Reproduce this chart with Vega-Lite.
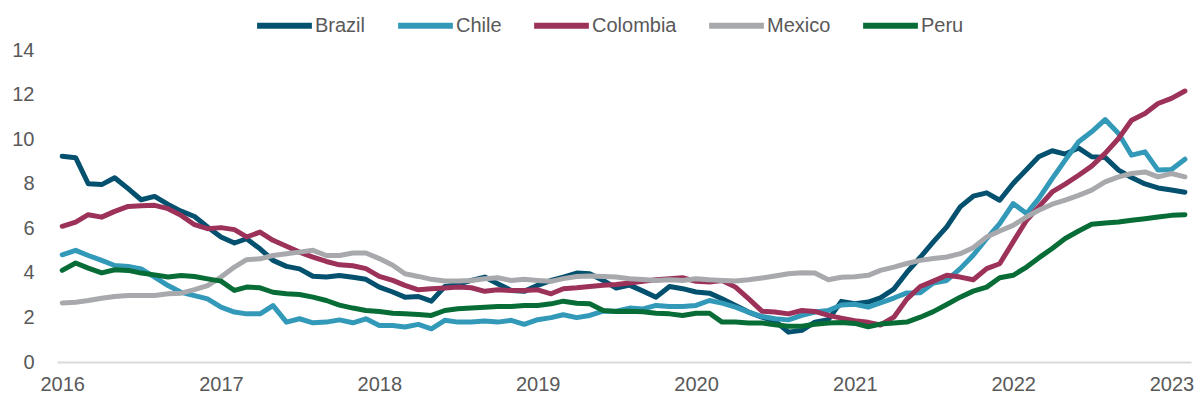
{
  "$schema": "https://vega.github.io/schema/vega-lite/v6.json",
  "width": 1134,
  "height": 312,
  "autosize": "none",
  "padding": {"left": 57, "top": 50, "right": 4, "bottom": 38},
  "background": "white",
  "config": {"font": "Liberation Sans", "view": {"stroke": null}},
  "data": {"values": [
{"date":"2016-01-01","country":"Brazil","value":9.23},{"date":"2016-02-01","country":"Brazil","value":9.17},{"date":"2016-03-01","country":"Brazil","value":8.00},{"date":"2016-04-01","country":"Brazil","value":7.96},{"date":"2016-05-01","country":"Brazil","value":8.27},{"date":"2016-06-01","country":"Brazil","value":7.78},{"date":"2016-07-01","country":"Brazil","value":7.28},{"date":"2016-08-01","country":"Brazil","value":7.43},{"date":"2016-09-01","country":"Brazil","value":7.07},{"date":"2016-10-01","country":"Brazil","value":6.77},{"date":"2016-11-01","country":"Brazil","value":6.53},{"date":"2016-12-01","country":"Brazil","value":6.06},
{"date":"2017-01-01","country":"Brazil","value":5.61},{"date":"2017-02-01","country":"Brazil","value":5.34},{"date":"2017-03-01","country":"Brazil","value":5.53},{"date":"2017-04-01","country":"Brazil","value":5.08},{"date":"2017-05-01","country":"Brazil","value":4.56},{"date":"2017-06-01","country":"Brazil","value":4.29},{"date":"2017-07-01","country":"Brazil","value":4.18},{"date":"2017-08-01","country":"Brazil","value":3.85},{"date":"2017-09-01","country":"Brazil","value":3.81},{"date":"2017-10-01","country":"Brazil","value":3.88},{"date":"2017-11-01","country":"Brazil","value":3.80},{"date":"2017-12-01","country":"Brazil","value":3.71},
{"date":"2018-01-01","country":"Brazil","value":3.36},{"date":"2018-02-01","country":"Brazil","value":3.14},{"date":"2018-03-01","country":"Brazil","value":2.91},{"date":"2018-04-01","country":"Brazil","value":2.94},{"date":"2018-05-01","country":"Brazil","value":2.73},{"date":"2018-06-01","country":"Brazil","value":3.39},{"date":"2018-07-01","country":"Brazil","value":3.48},{"date":"2018-08-01","country":"Brazil","value":3.66},{"date":"2018-09-01","country":"Brazil","value":3.81},{"date":"2018-10-01","country":"Brazil","value":3.51},{"date":"2018-11-01","country":"Brazil","value":3.21},{"date":"2018-12-01","country":"Brazil","value":3.17},
{"date":"2019-01-01","country":"Brazil","value":3.44},{"date":"2019-02-01","country":"Brazil","value":3.66},{"date":"2019-03-01","country":"Brazil","value":3.81},{"date":"2019-04-01","country":"Brazil","value":3.99},{"date":"2019-05-01","country":"Brazil","value":3.96},{"date":"2019-06-01","country":"Brazil","value":3.66},{"date":"2019-07-01","country":"Brazil","value":3.32},{"date":"2019-08-01","country":"Brazil","value":3.45},{"date":"2019-09-01","country":"Brazil","value":3.18},{"date":"2019-10-01","country":"Brazil","value":2.91},{"date":"2019-11-01","country":"Brazil","value":3.39},{"date":"2019-12-01","country":"Brazil","value":3.29},
{"date":"2020-01-01","country":"Brazil","value":3.14},{"date":"2020-02-01","country":"Brazil","value":3.09},{"date":"2020-03-01","country":"Brazil","value":2.84},{"date":"2020-04-01","country":"Brazil","value":2.54},{"date":"2020-05-01","country":"Brazil","value":2.24},{"date":"2020-06-01","country":"Brazil","value":2.01},{"date":"2020-07-01","country":"Brazil","value":1.84},{"date":"2020-08-01","country":"Brazil","value":1.34},{"date":"2020-09-01","country":"Brazil","value":1.42},{"date":"2020-10-01","country":"Brazil","value":1.79},{"date":"2020-11-01","country":"Brazil","value":1.90},{"date":"2020-12-01","country":"Brazil","value":2.72},
{"date":"2021-01-01","country":"Brazil","value":2.61},{"date":"2021-02-01","country":"Brazil","value":2.69},{"date":"2021-03-01","country":"Brazil","value":2.88},{"date":"2021-04-01","country":"Brazil","value":3.27},{"date":"2021-05-01","country":"Brazil","value":4.02},{"date":"2021-06-01","country":"Brazil","value":4.70},{"date":"2021-07-01","country":"Brazil","value":5.39},{"date":"2021-08-01","country":"Brazil","value":6.06},{"date":"2021-09-01","country":"Brazil","value":6.96},{"date":"2021-10-01","country":"Brazil","value":7.44},{"date":"2021-11-01","country":"Brazil","value":7.59},{"date":"2021-12-01","country":"Brazil","value":7.26},
{"date":"2022-01-01","country":"Brazil","value":8.01},{"date":"2022-02-01","country":"Brazil","value":8.64},{"date":"2022-03-01","country":"Brazil","value":9.21},{"date":"2022-04-01","country":"Brazil","value":9.48},{"date":"2022-05-01","country":"Brazil","value":9.33},{"date":"2022-06-01","country":"Brazil","value":9.60},{"date":"2022-07-01","country":"Brazil","value":9.21},{"date":"2022-08-01","country":"Brazil","value":9.18},{"date":"2022-09-01","country":"Brazil","value":8.61},{"date":"2022-10-01","country":"Brazil","value":8.28},{"date":"2022-11-01","country":"Brazil","value":7.99},{"date":"2022-12-01","country":"Brazil","value":7.81},
{"date":"2023-01-01","country":"Brazil","value":7.72},{"date":"2023-02-01","country":"Brazil","value":7.62},
{"date":"2016-01-01","country":"Chile","value":4.81},{"date":"2016-02-01","country":"Chile","value":5.01},{"date":"2016-03-01","country":"Chile","value":4.78},{"date":"2016-04-01","country":"Chile","value":4.56},{"date":"2016-05-01","country":"Chile","value":4.33},{"date":"2016-06-01","country":"Chile","value":4.29},{"date":"2016-07-01","country":"Chile","value":4.18},{"date":"2016-08-01","country":"Chile","value":3.81},{"date":"2016-09-01","country":"Chile","value":3.43},{"date":"2016-10-01","country":"Chile","value":3.13},{"date":"2016-11-01","country":"Chile","value":2.98},{"date":"2016-12-01","country":"Chile","value":2.83},
{"date":"2017-01-01","country":"Chile","value":2.46},{"date":"2017-02-01","country":"Chile","value":2.24},{"date":"2017-03-01","country":"Chile","value":2.16},{"date":"2017-04-01","country":"Chile","value":2.16},{"date":"2017-05-01","country":"Chile","value":2.53},{"date":"2017-06-01","country":"Chile","value":1.79},{"date":"2017-07-01","country":"Chile","value":1.94},{"date":"2017-08-01","country":"Chile","value":1.76},{"date":"2017-09-01","country":"Chile","value":1.79},{"date":"2017-10-01","country":"Chile","value":1.89},{"date":"2017-11-01","country":"Chile","value":1.76},{"date":"2017-12-01","country":"Chile","value":1.94},
{"date":"2018-01-01","country":"Chile","value":1.64},{"date":"2018-02-01","country":"Chile","value":1.64},{"date":"2018-03-01","country":"Chile","value":1.57},{"date":"2018-04-01","country":"Chile","value":1.69},{"date":"2018-05-01","country":"Chile","value":1.49},{"date":"2018-06-01","country":"Chile","value":1.87},{"date":"2018-07-01","country":"Chile","value":1.79},{"date":"2018-08-01","country":"Chile","value":1.79},{"date":"2018-09-01","country":"Chile","value":1.84},{"date":"2018-10-01","country":"Chile","value":1.79},{"date":"2018-11-01","country":"Chile","value":1.87},{"date":"2018-12-01","country":"Chile","value":1.69},
{"date":"2019-01-01","country":"Chile","value":1.90},{"date":"2019-02-01","country":"Chile","value":1.99},{"date":"2019-03-01","country":"Chile","value":2.12},{"date":"2019-04-01","country":"Chile","value":1.99},{"date":"2019-05-01","country":"Chile","value":2.09},{"date":"2019-06-01","country":"Chile","value":2.28},{"date":"2019-07-01","country":"Chile","value":2.28},{"date":"2019-08-01","country":"Chile","value":2.42},{"date":"2019-09-01","country":"Chile","value":2.38},{"date":"2019-10-01","country":"Chile","value":2.54},{"date":"2019-11-01","country":"Chile","value":2.49},{"date":"2019-12-01","country":"Chile","value":2.49},
{"date":"2020-01-01","country":"Chile","value":2.54},{"date":"2020-02-01","country":"Chile","value":2.76},{"date":"2020-03-01","country":"Chile","value":2.64},{"date":"2020-04-01","country":"Chile","value":2.46},{"date":"2020-05-01","country":"Chile","value":2.24},{"date":"2020-06-01","country":"Chile","value":2.04},{"date":"2020-07-01","country":"Chile","value":1.94},{"date":"2020-08-01","country":"Chile","value":1.89},{"date":"2020-09-01","country":"Chile","value":2.09},{"date":"2020-10-01","country":"Chile","value":2.24},{"date":"2020-11-01","country":"Chile","value":2.31},{"date":"2020-12-01","country":"Chile","value":2.56},
{"date":"2021-01-01","country":"Chile","value":2.59},{"date":"2021-02-01","country":"Chile","value":2.46},{"date":"2021-03-01","country":"Chile","value":2.65},{"date":"2021-04-01","country":"Chile","value":2.87},{"date":"2021-05-01","country":"Chile","value":3.10},{"date":"2021-06-01","country":"Chile","value":3.11},{"date":"2021-07-01","country":"Chile","value":3.54},{"date":"2021-08-01","country":"Chile","value":3.66},{"date":"2021-09-01","country":"Chile","value":4.19},{"date":"2021-10-01","country":"Chile","value":4.79},{"date":"2021-11-01","country":"Chile","value":5.54},{"date":"2021-12-01","country":"Chile","value":6.21},
{"date":"2022-01-01","country":"Chile","value":7.11},{"date":"2022-02-01","country":"Chile","value":6.66},{"date":"2022-03-01","country":"Chile","value":7.33},{"date":"2022-04-01","country":"Chile","value":8.23},{"date":"2022-05-01","country":"Chile","value":9.06},{"date":"2022-06-01","country":"Chile","value":9.88},{"date":"2022-07-01","country":"Chile","value":10.33},{"date":"2022-08-01","country":"Chile","value":10.88},{"date":"2022-09-01","country":"Chile","value":10.25},{"date":"2022-10-01","country":"Chile","value":9.28},{"date":"2022-11-01","country":"Chile","value":9.43},{"date":"2022-12-01","country":"Chile","value":8.61},
{"date":"2023-01-01","country":"Chile","value":8.64},{"date":"2023-02-01","country":"Chile","value":9.10},
{"date":"2016-01-01","country":"Colombia","value":6.09},{"date":"2016-02-01","country":"Colombia","value":6.28},{"date":"2016-03-01","country":"Colombia","value":6.61},{"date":"2016-04-01","country":"Colombia","value":6.50},{"date":"2016-05-01","country":"Colombia","value":6.76},{"date":"2016-06-01","country":"Colombia","value":6.98},{"date":"2016-07-01","country":"Colombia","value":7.01},{"date":"2016-08-01","country":"Colombia","value":7.03},{"date":"2016-09-01","country":"Colombia","value":6.88},{"date":"2016-10-01","country":"Colombia","value":6.58},{"date":"2016-11-01","country":"Colombia","value":6.16},{"date":"2016-12-01","country":"Colombia","value":5.98},
{"date":"2017-01-01","country":"Colombia","value":6.03},{"date":"2017-02-01","country":"Colombia","value":5.94},{"date":"2017-03-01","country":"Colombia","value":5.61},{"date":"2017-04-01","country":"Colombia","value":5.83},{"date":"2017-05-01","country":"Colombia","value":5.46},{"date":"2017-06-01","country":"Colombia","value":5.19},{"date":"2017-07-01","country":"Colombia","value":4.93},{"date":"2017-08-01","country":"Colombia","value":4.71},{"date":"2017-09-01","country":"Colombia","value":4.51},{"date":"2017-10-01","country":"Colombia","value":4.36},{"date":"2017-11-01","country":"Colombia","value":4.32},{"date":"2017-12-01","country":"Colombia","value":4.19},
{"date":"2018-01-01","country":"Colombia","value":3.84},{"date":"2018-02-01","country":"Colombia","value":3.66},{"date":"2018-03-01","country":"Colombia","value":3.44},{"date":"2018-04-01","country":"Colombia","value":3.24},{"date":"2018-05-01","country":"Colombia","value":3.29},{"date":"2018-06-01","country":"Colombia","value":3.32},{"date":"2018-07-01","country":"Colombia","value":3.36},{"date":"2018-08-01","country":"Colombia","value":3.33},{"date":"2018-09-01","country":"Colombia","value":3.17},{"date":"2018-10-01","country":"Colombia","value":3.24},{"date":"2018-11-01","country":"Colombia","value":3.21},{"date":"2018-12-01","country":"Colombia","value":3.21},
{"date":"2019-01-01","country":"Colombia","value":3.24},{"date":"2019-02-01","country":"Colombia","value":3.06},{"date":"2019-03-01","country":"Colombia","value":3.29},{"date":"2019-04-01","country":"Colombia","value":3.33},{"date":"2019-05-01","country":"Colombia","value":3.39},{"date":"2019-06-01","country":"Colombia","value":3.44},{"date":"2019-07-01","country":"Colombia","value":3.48},{"date":"2019-08-01","country":"Colombia","value":3.54},{"date":"2019-09-01","country":"Colombia","value":3.62},{"date":"2019-10-01","country":"Colombia","value":3.69},{"date":"2019-11-01","country":"Colombia","value":3.74},{"date":"2019-12-01","country":"Colombia","value":3.78},
{"date":"2020-01-01","country":"Colombia","value":3.62},{"date":"2020-02-01","country":"Colombia","value":3.59},{"date":"2020-03-01","country":"Colombia","value":3.66},{"date":"2020-04-01","country":"Colombia","value":3.36},{"date":"2020-05-01","country":"Colombia","value":2.84},{"date":"2020-06-01","country":"Colombia","value":2.28},{"date":"2020-07-01","country":"Colombia","value":2.24},{"date":"2020-08-01","country":"Colombia","value":2.16},{"date":"2020-09-01","country":"Colombia","value":2.31},{"date":"2020-10-01","country":"Colombia","value":2.27},{"date":"2020-11-01","country":"Colombia","value":2.09},{"date":"2020-12-01","country":"Colombia","value":1.97},
{"date":"2021-01-01","country":"Colombia","value":1.85},{"date":"2021-02-01","country":"Colombia","value":1.78},{"date":"2021-03-01","country":"Colombia","value":1.66},{"date":"2021-04-01","country":"Colombia","value":2.01},{"date":"2021-05-01","country":"Colombia","value":2.82},{"date":"2021-06-01","country":"Colombia","value":3.39},{"date":"2021-07-01","country":"Colombia","value":3.63},{"date":"2021-08-01","country":"Colombia","value":3.89},{"date":"2021-09-01","country":"Colombia","value":3.81},{"date":"2021-10-01","country":"Colombia","value":3.69},{"date":"2021-11-01","country":"Colombia","value":4.19},{"date":"2021-12-01","country":"Colombia","value":4.41},
{"date":"2022-01-01","country":"Colombia","value":5.39},{"date":"2022-02-01","country":"Colombia","value":6.36},{"date":"2022-03-01","country":"Colombia","value":6.96},{"date":"2022-04-01","country":"Colombia","value":7.63},{"date":"2022-05-01","country":"Colombia","value":7.98},{"date":"2022-06-01","country":"Colombia","value":8.38},{"date":"2022-07-01","country":"Colombia","value":8.79},{"date":"2022-08-01","country":"Colombia","value":9.36},{"date":"2022-09-01","country":"Colombia","value":10.03},{"date":"2022-10-01","country":"Colombia","value":10.85},{"date":"2022-11-01","country":"Colombia","value":11.15},{"date":"2022-12-01","country":"Colombia","value":11.60},
{"date":"2023-01-01","country":"Colombia","value":11.83},{"date":"2023-02-01","country":"Colombia","value":12.16},
{"date":"2016-01-01","country":"Mexico","value":2.65},{"date":"2016-02-01","country":"Mexico","value":2.68},{"date":"2016-03-01","country":"Mexico","value":2.76},{"date":"2016-04-01","country":"Mexico","value":2.86},{"date":"2016-05-01","country":"Mexico","value":2.94},{"date":"2016-06-01","country":"Mexico","value":2.98},{"date":"2016-07-01","country":"Mexico","value":2.98},{"date":"2016-08-01","country":"Mexico","value":2.98},{"date":"2016-09-01","country":"Mexico","value":3.06},{"date":"2016-10-01","country":"Mexico","value":3.09},{"date":"2016-11-01","country":"Mexico","value":3.25},{"date":"2016-12-01","country":"Mexico","value":3.43},
{"date":"2017-01-01","country":"Mexico","value":3.81},{"date":"2017-02-01","country":"Mexico","value":4.26},{"date":"2017-03-01","country":"Mexico","value":4.59},{"date":"2017-04-01","country":"Mexico","value":4.63},{"date":"2017-05-01","country":"Mexico","value":4.78},{"date":"2017-06-01","country":"Mexico","value":4.86},{"date":"2017-07-01","country":"Mexico","value":4.93},{"date":"2017-08-01","country":"Mexico","value":5.01},{"date":"2017-09-01","country":"Mexico","value":4.78},{"date":"2017-10-01","country":"Mexico","value":4.78},{"date":"2017-11-01","country":"Mexico","value":4.89},{"date":"2017-12-01","country":"Mexico","value":4.89},
{"date":"2018-01-01","country":"Mexico","value":4.64},{"date":"2018-02-01","country":"Mexico","value":4.34},{"date":"2018-03-01","country":"Mexico","value":3.96},{"date":"2018-04-01","country":"Mexico","value":3.84},{"date":"2018-05-01","country":"Mexico","value":3.71},{"date":"2018-06-01","country":"Mexico","value":3.63},{"date":"2018-07-01","country":"Mexico","value":3.63},{"date":"2018-08-01","country":"Mexico","value":3.66},{"date":"2018-09-01","country":"Mexico","value":3.74},{"date":"2018-10-01","country":"Mexico","value":3.78},{"date":"2018-11-01","country":"Mexico","value":3.66},{"date":"2018-12-01","country":"Mexico","value":3.71},
{"date":"2019-01-01","country":"Mexico","value":3.66},{"date":"2019-02-01","country":"Mexico","value":3.62},{"date":"2019-03-01","country":"Mexico","value":3.74},{"date":"2019-04-01","country":"Mexico","value":3.84},{"date":"2019-05-01","country":"Mexico","value":3.86},{"date":"2019-06-01","country":"Mexico","value":3.84},{"date":"2019-07-01","country":"Mexico","value":3.81},{"date":"2019-08-01","country":"Mexico","value":3.74},{"date":"2019-09-01","country":"Mexico","value":3.70},{"date":"2019-10-01","country":"Mexico","value":3.66},{"date":"2019-11-01","country":"Mexico","value":3.69},{"date":"2019-12-01","country":"Mexico","value":3.66},
{"date":"2020-01-01","country":"Mexico","value":3.74},{"date":"2020-02-01","country":"Mexico","value":3.69},{"date":"2020-03-01","country":"Mexico","value":3.66},{"date":"2020-04-01","country":"Mexico","value":3.63},{"date":"2020-05-01","country":"Mexico","value":3.69},{"date":"2020-06-01","country":"Mexico","value":3.77},{"date":"2020-07-01","country":"Mexico","value":3.86},{"date":"2020-08-01","country":"Mexico","value":3.96},{"date":"2020-09-01","country":"Mexico","value":4.01},{"date":"2020-10-01","country":"Mexico","value":3.99},{"date":"2020-11-01","country":"Mexico","value":3.69},{"date":"2020-12-01","country":"Mexico","value":3.80},
{"date":"2021-01-01","country":"Mexico","value":3.83},{"date":"2021-02-01","country":"Mexico","value":3.89},{"date":"2021-03-01","country":"Mexico","value":4.11},{"date":"2021-04-01","country":"Mexico","value":4.26},{"date":"2021-05-01","country":"Mexico","value":4.42},{"date":"2021-06-01","country":"Mexico","value":4.56},{"date":"2021-07-01","country":"Mexico","value":4.64},{"date":"2021-08-01","country":"Mexico","value":4.71},{"date":"2021-09-01","country":"Mexico","value":4.86},{"date":"2021-10-01","country":"Mexico","value":5.13},{"date":"2021-11-01","country":"Mexico","value":5.61},{"date":"2021-12-01","country":"Mexico","value":5.88},
{"date":"2022-01-01","country":"Mexico","value":6.13},{"date":"2022-02-01","country":"Mexico","value":6.51},{"date":"2022-03-01","country":"Mexico","value":6.81},{"date":"2022-04-01","country":"Mexico","value":7.08},{"date":"2022-05-01","country":"Mexico","value":7.26},{"date":"2022-06-01","country":"Mexico","value":7.48},{"date":"2022-07-01","country":"Mexico","value":7.71},{"date":"2022-08-01","country":"Mexico","value":8.08},{"date":"2022-09-01","country":"Mexico","value":8.31},{"date":"2022-10-01","country":"Mexico","value":8.46},{"date":"2022-11-01","country":"Mexico","value":8.53},{"date":"2022-12-01","country":"Mexico","value":8.31},
{"date":"2023-01-01","country":"Mexico","value":8.46},{"date":"2023-02-01","country":"Mexico","value":8.31},
{"date":"2016-01-01","country":"Peru","value":4.11},{"date":"2016-02-01","country":"Peru","value":4.44},{"date":"2016-03-01","country":"Peru","value":4.21},{"date":"2016-04-01","country":"Peru","value":4.00},{"date":"2016-05-01","country":"Peru","value":4.14},{"date":"2016-06-01","country":"Peru","value":4.11},{"date":"2016-07-01","country":"Peru","value":3.99},{"date":"2016-08-01","country":"Peru","value":3.91},{"date":"2016-09-01","country":"Peru","value":3.81},{"date":"2016-10-01","country":"Peru","value":3.88},{"date":"2016-11-01","country":"Peru","value":3.84},{"date":"2016-12-01","country":"Peru","value":3.73},
{"date":"2017-01-01","country":"Peru","value":3.63},{"date":"2017-02-01","country":"Peru","value":3.21},{"date":"2017-03-01","country":"Peru","value":3.36},{"date":"2017-04-01","country":"Peru","value":3.33},{"date":"2017-05-01","country":"Peru","value":3.13},{"date":"2017-06-01","country":"Peru","value":3.06},{"date":"2017-07-01","country":"Peru","value":3.03},{"date":"2017-08-01","country":"Peru","value":2.91},{"date":"2017-09-01","country":"Peru","value":2.76},{"date":"2017-10-01","country":"Peru","value":2.55},{"date":"2017-11-01","country":"Peru","value":2.42},{"date":"2017-12-01","country":"Peru","value":2.31},
{"date":"2018-01-01","country":"Peru","value":2.27},{"date":"2018-02-01","country":"Peru","value":2.19},{"date":"2018-03-01","country":"Peru","value":2.16},{"date":"2018-04-01","country":"Peru","value":2.13},{"date":"2018-05-01","country":"Peru","value":2.09},{"date":"2018-06-01","country":"Peru","value":2.31},{"date":"2018-07-01","country":"Peru","value":2.39},{"date":"2018-08-01","country":"Peru","value":2.42},{"date":"2018-09-01","country":"Peru","value":2.46},{"date":"2018-10-01","country":"Peru","value":2.49},{"date":"2018-11-01","country":"Peru","value":2.49},{"date":"2018-12-01","country":"Peru","value":2.54},
{"date":"2019-01-01","country":"Peru","value":2.54},{"date":"2019-02-01","country":"Peru","value":2.61},{"date":"2019-03-01","country":"Peru","value":2.73},{"date":"2019-04-01","country":"Peru","value":2.64},{"date":"2019-05-01","country":"Peru","value":2.61},{"date":"2019-06-01","country":"Peru","value":2.31},{"date":"2019-07-01","country":"Peru","value":2.27},{"date":"2019-08-01","country":"Peru","value":2.28},{"date":"2019-09-01","country":"Peru","value":2.25},{"date":"2019-10-01","country":"Peru","value":2.19},{"date":"2019-11-01","country":"Peru","value":2.16},{"date":"2019-12-01","country":"Peru","value":2.09},
{"date":"2020-01-01","country":"Peru","value":2.19},{"date":"2020-02-01","country":"Peru","value":2.19},{"date":"2020-03-01","country":"Peru","value":1.79},{"date":"2020-04-01","country":"Peru","value":1.79},{"date":"2020-05-01","country":"Peru","value":1.75},{"date":"2020-06-01","country":"Peru","value":1.75},{"date":"2020-07-01","country":"Peru","value":1.67},{"date":"2020-08-01","country":"Peru","value":1.60},{"date":"2020-09-01","country":"Peru","value":1.60},{"date":"2020-10-01","country":"Peru","value":1.69},{"date":"2020-11-01","country":"Peru","value":1.75},{"date":"2020-12-01","country":"Peru","value":1.77},
{"date":"2021-01-01","country":"Peru","value":1.73},{"date":"2021-02-01","country":"Peru","value":1.58},{"date":"2021-03-01","country":"Peru","value":1.70},{"date":"2021-04-01","country":"Peru","value":1.75},{"date":"2021-05-01","country":"Peru","value":1.79},{"date":"2021-06-01","country":"Peru","value":2.01},{"date":"2021-07-01","country":"Peru","value":2.26},{"date":"2021-08-01","country":"Peru","value":2.58},{"date":"2021-09-01","country":"Peru","value":2.91},{"date":"2021-10-01","country":"Peru","value":3.18},{"date":"2021-11-01","country":"Peru","value":3.36},{"date":"2021-12-01","country":"Peru","value":3.78},
{"date":"2022-01-01","country":"Peru","value":3.89},{"date":"2022-02-01","country":"Peru","value":4.26},{"date":"2022-03-01","country":"Peru","value":4.67},{"date":"2022-04-01","country":"Peru","value":5.09},{"date":"2022-05-01","country":"Peru","value":5.54},{"date":"2022-06-01","country":"Peru","value":5.88},{"date":"2022-07-01","country":"Peru","value":6.18},{"date":"2022-08-01","country":"Peru","value":6.24},{"date":"2022-09-01","country":"Peru","value":6.28},{"date":"2022-10-01","country":"Peru","value":6.36},{"date":"2022-11-01","country":"Peru","value":6.43},{"date":"2022-12-01","country":"Peru","value":6.51},
{"date":"2023-01-01","country":"Peru","value":6.58},{"date":"2023-02-01","country":"Peru","value":6.61}
  ]},
  "mark": {"type": "line", "strokeWidth": 5, "strokeCap": "round", "strokeJoin": "round"},
  "encoding": {
    "x": {
      "field": "date", "type": "temporal",
      "scale": {"type": "utc", "domain": [{"year": 2015, "month": 12, "date": 20, "utc": true}, {"year": 2023, "month": 2, "date": 15, "utc": true}], "nice": false},
      "axis": {
        "title": null,
        "values": [
          {"year": 2016, "month": 1, "date": 1, "utc": true},
          {"year": 2017, "month": 1, "date": 1, "utc": true},
          {"year": 2018, "month": 1, "date": 1, "utc": true},
          {"year": 2019, "month": 1, "date": 1, "utc": true},
          {"year": 2020, "month": 1, "date": 1, "utc": true},
          {"year": 2021, "month": 1, "date": 1, "utc": true},
          {"year": 2022, "month": 1, "date": 1, "utc": true},
          {"year": 2023, "month": 1, "date": 1, "utc": true}
        ],
        "format": "%Y", "formatType": "utc",
        "grid": false, "ticks": false, "tickSize": 0,
        "domainColor": "#D9D9D9", "domainWidth": 2,
        "labelFontSize": 20, "labelColor": "#595959", "labelPadding": 12,
        "labelOverlap": false, "labelFlush": false
      }
    },
    "y": {
      "field": "value", "type": "quantitative",
      "scale": {"domain": [0, 14], "nice": false},
      "axis": {
        "title": null, "values": [0, 2, 4, 6, 8, 10, 12, 14],
        "grid": false, "ticks": false, "domain": false,
        "labelFontSize": 20, "labelColor": "#595959", "labelPadding": 23
      }
    },
    "color": {
      "field": "country", "type": "nominal",
      "scale": {"domain": ["Brazil", "Chile", "Colombia", "Mexico", "Peru"], "range": ["#04506F", "#3399B9", "#9C3259", "#A7A9AC", "#076C36"]},
      "legend": {
        "title": null, "orient": "none", "direction": "horizontal",
        "legendX": 197, "legendY": -55,
        "symbolType": "stroke", "symbolSize": 3000, "symbolStrokeWidth": 6,
        "labelFontSize": 20, "labelColor": "#595959", "labelOffset": 0,
        "columnPadding": 20
      }
    }
  }
}
